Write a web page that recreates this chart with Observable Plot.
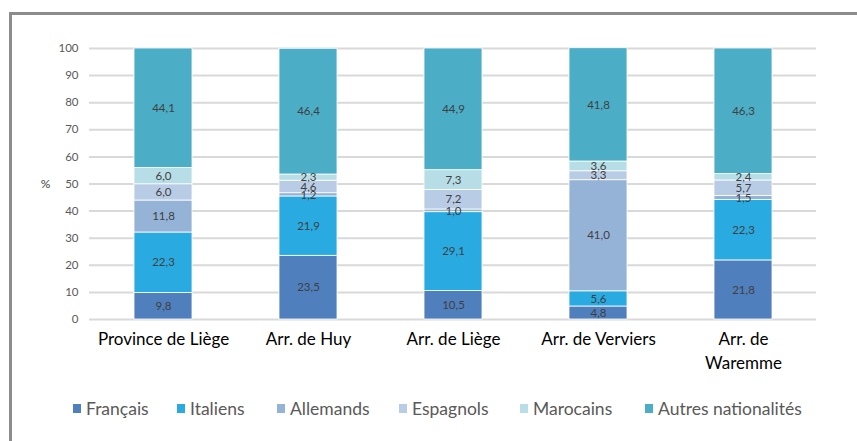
<!DOCTYPE html>
<html>
<head>
<meta charset="utf-8">
<script src="https://cdn.jsdelivr.net/npm/d3@7"></script>
<script src="https://cdn.jsdelivr.net/npm/@observablehq/plot@0.6"></script>
<style>
  html, body { margin: 0; padding: 0; background: #fff; }
  #wrap { position: relative; width: 857px; height: 441px; overflow: hidden; font-family: Lato, "Open Sans", sans-serif; }
  #frame { position: absolute; left: 9px; top: 12px; width: 900px; height: 460px; border: 3px solid #8c8c8c; box-sizing: border-box; }
  #chart { position: absolute; left: 0; top: 0; }
  #legend { position: absolute; left: 0; top: 396px; width: 857px; height: 24px; font-size: 17.5px; color: #595959; white-space: nowrap; }
  #legend .item { position: absolute; top: 0; display: flex; align-items: center; height: 24px; }
  #legend .sw { width: 8px; height: 9px; margin-right: 5px; }
</style>
</head>
<body>
<div id="wrap">
  <div id="frame"></div>
  <div id="chart"></div>
  <div id="legend"></div>
</div>
<script>
const categories = ["Province de Liège", "Arr. de Huy", "Arr. de Liège", "Arr. de Verviers", "Arr. de Waremme"];
const categoryLabels = ["Province de Liège", "Arr. de Huy", "Arr. de Liège", "Arr. de Verviers", "Arr. de\nWaremme"];
const seriesNames = ["Français", "Italiens", "Allemands", "Espagnols", "Marocains", "Autres nationalités"];
const seriesColors = ["#4f7fbd", "#29abe2", "#95b3d7", "#b9cce5", "#b7dee6", "#4badc6"];
const francais  = [9.8, 23.5, 10.5, 4.8, 21.8];
const italiens  = [22.3, 21.9, 29.1, 5.6, 22.3];
const allemands = [11.8, 1.2, 1.0, 41.0, 1.5];
const espagnols = [6.0, 4.6, 7.2, 3.3, 5.7];
const marocains = [6.0, 2.3, 7.3, 3.6, 2.4];
const autres    = [44.1, 46.4, 44.9, 41.8, 46.3];
const yTicks = [0, 10, 20, 30, 40, 50, 60, 70, 80, 90, 100];

const seriesValues = [francais, italiens, allemands, espagnols, marocains, autres];
const data = [];
seriesNames.forEach((s, si) => {
  categories.forEach((c, ci) => {
    data.push({category: c, series: s, value: seriesValues[si][ci]});
  });
});
const fmt = v => v.toFixed(1).replace(".", ",");
const labelOf = new Map(categories.map((c, i) => [c, categoryLabels[i]]));

const plot = Plot.plot({
  width: 857,
  height: 441,
  marginLeft: 89,
  marginRight: 41,
  marginTop: 48,
  marginBottom: 122,
  style: {fontFamily: "Lato, 'Open Sans', sans-serif", background: "transparent"},
  x: {domain: categories, paddingInner: 0.6, paddingOuter: 0.3, label: null},
  y: {domain: [0, 100], label: null},
  color: {domain: seriesNames, range: seriesColors},
  marks: [
    Plot.gridY(yTicks, {stroke: "#d9d9d9", strokeOpacity: 1, strokeWidth: 2}),
    Plot.axisY(yTicks, {tickSize: 0, tickPadding: 11, fontSize: 11.5, fill: "#595959", label: null}),
    Plot.axisX({tickSize: 0, tickPadding: 8, fontSize: 17, fill: "#000", lineHeight: 1.42, tickFormat: d => labelOf.get(d), label: null}),
    Plot.barY(data, {x: "category", y: "value", fill: "series", stroke: "#ffffff", strokeWidth: 0.8, order: seriesNames}),
    Plot.text(data, Plot.stackY({x: "category", y: "value", z: "series", order: seriesNames, text: d => fmt(d.value), fill: "#404040", fontSize: 11.5})),
    Plot.text(["%"], {y: [50], frameAnchor: "left", dx: -44, text: d => d, fontSize: 12, fill: "#404040", textAnchor: "middle"})
  ]
});
document.getElementById("chart").appendChild(plot);

const legendLefts = [73, 177, 277, 399, 520, 645];
const legend = document.getElementById("legend");
seriesNames.forEach((s, i) => {
  const item = document.createElement("div");
  item.className = "item";
  item.style.left = legendLefts[i] + "px";
  const sw = document.createElement("span");
  sw.className = "sw";
  sw.style.background = seriesColors[i];
  const t = document.createElement("span");
  t.textContent = s;
  item.appendChild(sw);
  item.appendChild(t);
  legend.appendChild(item);
});
</script>
</body>
</html>
